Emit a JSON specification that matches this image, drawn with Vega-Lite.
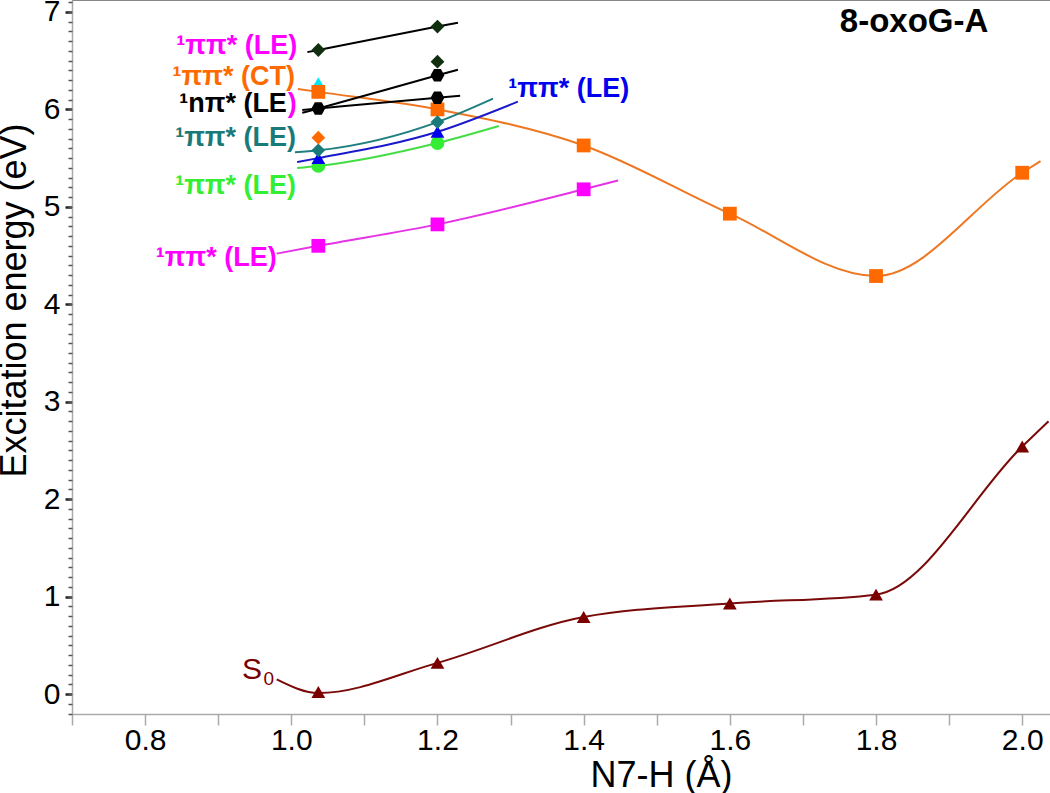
{
  "$schema": "https://vega.github.io/schema/vega-lite/v6.json",
  "width": 978,
  "height": 714,
  "autosize": {"type": "none"},
  "padding": {"left": 72, "top": 0, "right": 0, "bottom": 79},
  "background": "white",
  "config": {"view": {"stroke": null}, "font": "Liberation Sans"},
  "datasets": {
    "lines": [
      {"s": "S0", "x": 0.98, "y": 0.15}, {"s": "S0", "x": 1.037, "y": 0.01}, {"s": "S0", "x": 1.2, "y": 0.32}, {"s": "S0", "x": 1.4, "y": 0.79}, {"s": "S0", "x": 1.6, "y": 0.93}, {"s": "S0", "x": 1.8, "y": 1.02}, {"s": "S0", "x": 2.0, "y": 2.54}, {"s": "S0", "x": 2.036, "y": 2.8},
      {"s": "CT", "x": 1.009, "y": 6.21}, {"s": "CT", "x": 1.037, "y": 6.18}, {"s": "CT", "x": 1.2, "y": 6.0}, {"s": "CT", "x": 1.4, "y": 5.63}, {"s": "CT", "x": 1.6, "y": 4.93}, {"s": "CT", "x": 1.8, "y": 4.29}, {"s": "CT", "x": 2.0, "y": 5.35}, {"s": "CT", "x": 2.025, "y": 5.47},
      {"s": "LEm", "x": 0.98, "y": 4.52}, {"s": "LEm", "x": 1.037, "y": 4.6}, {"s": "LEm", "x": 1.2, "y": 4.82}, {"s": "LEm", "x": 1.4, "y": 5.18}, {"s": "LEm", "x": 1.447, "y": 5.27},
      {"s": "LEg", "x": 1.008, "y": 5.4}, {"s": "LEg", "x": 1.037, "y": 5.42}, {"s": "LEg", "x": 1.2, "y": 5.655}, {"s": "LEg", "x": 1.284, "y": 5.83},
      {"s": "LEb", "x": 1.008, "y": 5.46}, {"s": "LEb", "x": 1.037, "y": 5.5}, {"s": "LEb", "x": 1.2, "y": 5.77}, {"s": "LEb", "x": 1.31, "y": 6.08},
      {"s": "LEt", "x": 1.005, "y": 5.56}, {"s": "LEt", "x": 1.037, "y": 5.58}, {"s": "LEt", "x": 1.2, "y": 5.87}, {"s": "LEt", "x": 1.276, "y": 6.11},
      {"s": "npiA", "x": 1.015, "y": 5.965}, {"s": "npiA", "x": 1.037, "y": 6.01}, {"s": "npiA", "x": 1.2, "y": 6.35}, {"s": "npiA", "x": 1.228, "y": 6.408},
      {"s": "npiB", "x": 1.015, "y": 5.995}, {"s": "npiB", "x": 1.037, "y": 6.01}, {"s": "npiB", "x": 1.2, "y": 6.12}, {"s": "npiB", "x": 1.231, "y": 6.14},
      {"s": "top", "x": 1.022, "y": 6.588}, {"s": "top", "x": 1.037, "y": 6.61}, {"s": "top", "x": 1.2, "y": 6.85}, {"s": "top", "x": 1.228, "y": 6.89}
    ],
    "points": [
      {"s": "S0", "x": 1.037, "y": 0.02}, {"s": "S0", "x": 1.2, "y": 0.32}, {"s": "S0", "x": 1.4, "y": 0.79}, {"s": "S0", "x": 1.6, "y": 0.93}, {"s": "S0", "x": 1.8, "y": 1.02}, {"s": "S0", "x": 2.0, "y": 2.54},
      {"s": "cyan", "x": 1.037, "y": 6.27},
      {"s": "CT", "x": 1.037, "y": 6.18}, {"s": "CT", "x": 1.2, "y": 6.0}, {"s": "CT", "x": 1.4, "y": 5.63}, {"s": "CT", "x": 1.6, "y": 4.93}, {"s": "CT", "x": 1.8, "y": 4.29}, {"s": "CT", "x": 2.0, "y": 5.35},
      {"s": "LEm", "x": 1.037, "y": 4.6}, {"s": "LEm", "x": 1.2, "y": 4.82}, {"s": "LEm", "x": 1.4, "y": 5.18},
      {"s": "LEg", "x": 1.037, "y": 5.42}, {"s": "LEg", "x": 1.2, "y": 5.655},
      {"s": "LEb", "x": 1.037, "y": 5.5}, {"s": "LEb", "x": 1.2, "y": 5.77},
      {"s": "LEt", "x": 1.037, "y": 5.58}, {"s": "LEt", "x": 1.2, "y": 5.87},
      {"s": "od", "x": 1.037, "y": 5.71},
      {"s": "npi", "x": 1.037, "y": 6.01}, {"s": "npi", "x": 1.2, "y": 6.35}, {"s": "npi", "x": 1.2, "y": 6.12},
      {"s": "top", "x": 1.037, "y": 6.61}, {"s": "top", "x": 1.2, "y": 6.85}, {"s": "top", "x": 1.2, "y": 6.49}
    ],
    "labelsRight": [
      {"s": "LEm", "t": "¹ππ* (LE)", "x": 1.008, "y": 6.65},
      {"s": "CT", "t": "¹ππ* (CT)", "x": 1.005, "y": 6.33},
      {"s": "npi", "t": "¹nπ* (LE", "x": 0.994, "y": 6.06},
      {"s": "LEt", "t": "¹ππ* (LE)", "x": 1.0065, "y": 5.71},
      {"s": "LEg", "t": "¹ππ* (LE)", "x": 1.0065, "y": 5.21},
      {"s": "LEm", "t": "¹ππ* (LE)", "x": 0.98, "y": 4.475}
    ],
    "labelsLeft": [
      {"s": "LEm", "t": ")", "x": 0.995, "y": 6.06},
      {"s": "LEb", "t": "¹ππ* (LE)", "x": 1.297, "y": 6.21}
    ],
    "s0big": [{"s": "S0", "t": "S", "x": 0.96, "y": 0.25}],
    "s0small": [{"s": "S0", "t": "0", "x": 0.962, "y": 0.15}],
    "title": [{"s": "npi", "t": "8-oxoG-A", "x": 1.852, "y": 6.9}]
  },
  "layer": [
    {
      "data": {"name": "lines"},
      "mark": {"type": "line", "interpolate": "monotone", "strokeWidth": 2},
      "encoding": {
        "x": {
          "field": "x", "type": "quantitative",
          "scale": {"domain": [0.7, 2.038], "nice": false, "zero": false},
          "axis": {
            "orient": "bottom",
            "values": [0.7, 0.8, 0.9, 1.0, 1.1, 1.2, 1.3, 1.4, 1.5, 1.6, 1.7, 1.8, 1.9, 2.0],
            "labelExpr": "(round(datum.value*10)%2==0) ? format(datum.value,'.1f') : ''",
            "tickSize": 11, "tickColor": "#aaaaaa", "tickWidth": 1.5,
            "domainColor": "#aaaaaa", "domainWidth": 1.5,
            "labelFont": "Liberation Sans", "labelFontSize": 30, "labelColor": "#000000",
            "labelPadding": 0, "labelOverlap": false, "labelFlush": false, "labelBound": false,
            "grid": false,
            "title": "N7-H (Å)", "titleFont": "Liberation Sans", "titleFontSize": 36, "titleFontWeight": "normal", "titleColor": "#000000",
            "titleX": 589, "titleY": 61, "titleBaseline": "middle", "titleAlign": "center", "titleAnchor": null
          }
        },
        "y": {
          "field": "y", "type": "quantitative",
          "scale": {"domain": [-0.205, 7.123], "nice": false, "zero": false},
          "axis": {
            "orient": "left",
            "values": [0, 1, 2, 3, 4, 5, 6, 7],
            "tickSize": 7, "tickColor": "#222222", "tickWidth": 2.5,
            "domainColor": "#aaaaaa", "domainWidth": 1.5,
            "labelFont": "Liberation Sans", "labelFontSize": 30, "labelColor": "#000000", "labelPadding": 5,
            "labelOverlap": false, "labelFlush": false, "labelBound": false,
            "grid": false,
            "title": "Excitation energy (eV)", "titleFont": "Liberation Sans", "titleFontSize": 36, "titleFontWeight": "normal", "titleColor": "#000000",
            "titleX": -58, "titleY": 300, "titleBaseline": "middle", "titleAlign": "center", "titleAngle": -90
          }
        },
        "detail": {"field": "s"},
        "stroke": {
          "field": "s", "type": "nominal", "legend": null,
          "scale": {
            "domain": ["S0", "CT", "LEm", "LEg", "LEb", "LEt", "npiA", "npiB", "top"],
            "range": ["#7a0a0a", "#ee7722", "#e633e6", "#44dd44", "#1a1acc", "#1f7f7f", "#000000", "#000000", "#000000"]
          }
        }
      }
    },
    {
      "data": {"name": "points"},
      "mark": {"type": "point", "filled": true, "opacity": 1, "size": 190},
      "encoding": {
        "x": {"field": "x", "type": "quantitative", "axis": null},
        "y": {
          "field": "y", "type": "quantitative",
          "axis": {
            "orient": "left",
            "values": [-0.2, -0.1, 0, 0.1, 0.2, 0.3, 0.4, 0.5, 0.6, 0.7, 0.8, 0.9, 1, 1.1, 1.2, 1.3, 1.4, 1.5, 1.6, 1.7, 1.8, 1.9, 2, 2.1, 2.2, 2.3, 2.4, 2.5, 2.6, 2.7, 2.8, 2.9, 3, 3.1, 3.2, 3.3, 3.4, 3.5, 3.6, 3.7, 3.8, 3.9, 4, 4.1, 4.2, 4.3, 4.4, 4.5, 4.6, 4.7, 4.8, 4.9, 5, 5.1, 5.2, 5.3, 5.4, 5.5, 5.6, 5.7, 5.8, 5.9, 6, 6.1, 6.2, 6.3, 6.4, 6.5, 6.6, 6.7, 6.8, 6.9, 7, 7.1],
            "tickSize": 4, "tickColor": "#555555", "tickWidth": 1.5,
            "domain": false, "labels": false, "grid": false, "title": null
          }
        },
        "color": {
          "field": "s", "type": "nominal", "legend": null,
          "scale": {
            "domain": ["S0", "CT", "LEm", "LEg", "LEb", "LEt", "npi", "top", "cyan", "od"],
            "range": ["#7a0000", "#ff6a00", "#ff00ff", "#33ee33", "#0000ee", "#1a7a7a", "#000000", "#0f2f0f", "#00e8f0", "#ff6a00"]
          }
        },
        "shape": {
          "field": "s", "type": "nominal", "legend": null,
          "scale": {
            "domain": ["S0", "CT", "LEm", "LEg", "LEb", "LEt", "npi", "top", "cyan", "od"],
            "range": ["triangle-up", "square", "square", "circle", "triangle-up", "diamond", "M-1,0L-0.5,-0.9L0.5,-0.9L1,0L0.5,0.9L-0.5,0.9Z", "diamond", "triangle-up", "diamond"]
          }
        }
      }
    },
    {
      "data": {"name": "labelsRight"},
      "mark": {"type": "text", "align": "right", "baseline": "middle", "font": "Liberation Sans", "fontWeight": "bold", "fontSize": 27},
      "encoding": {
        "x": {"field": "x", "type": "quantitative"},
        "y": {"field": "y", "type": "quantitative"},
        "text": {"field": "t"},
        "color": {"field": "s", "type": "nominal", "legend": null}
      }
    },
    {
      "data": {"name": "labelsLeft"},
      "mark": {"type": "text", "align": "left", "baseline": "middle", "font": "Liberation Sans", "fontWeight": "bold", "fontSize": 27},
      "encoding": {
        "x": {"field": "x", "type": "quantitative"},
        "y": {"field": "y", "type": "quantitative"},
        "text": {"field": "t"},
        "color": {"field": "s", "type": "nominal", "legend": null}
      }
    },
    {
      "data": {"name": "s0big"},
      "mark": {"type": "text", "align": "right", "baseline": "middle", "font": "Liberation Sans", "fontSize": 30},
      "encoding": {
        "x": {"field": "x", "type": "quantitative"},
        "y": {"field": "y", "type": "quantitative"},
        "text": {"field": "t"},
        "color": {"field": "s", "type": "nominal", "legend": null}
      }
    },
    {
      "data": {"name": "s0small"},
      "mark": {"type": "text", "align": "left", "baseline": "middle", "font": "Liberation Sans", "fontSize": 19},
      "encoding": {
        "x": {"field": "x", "type": "quantitative"},
        "y": {"field": "y", "type": "quantitative"},
        "text": {"field": "t"},
        "color": {"field": "s", "type": "nominal", "legend": null}
      }
    },
    {
      "data": {"name": "title"},
      "mark": {"type": "text", "align": "center", "baseline": "middle", "font": "Liberation Sans", "fontWeight": "bold", "fontSize": 33},
      "encoding": {
        "x": {"field": "x", "type": "quantitative"},
        "y": {"field": "y", "type": "quantitative"},
        "text": {"field": "t"},
        "color": {"field": "s", "type": "nominal", "legend": null}
      }
    }
  ],
  "resolve": {"axis": {"x": "independent", "y": "independent"}}
}
